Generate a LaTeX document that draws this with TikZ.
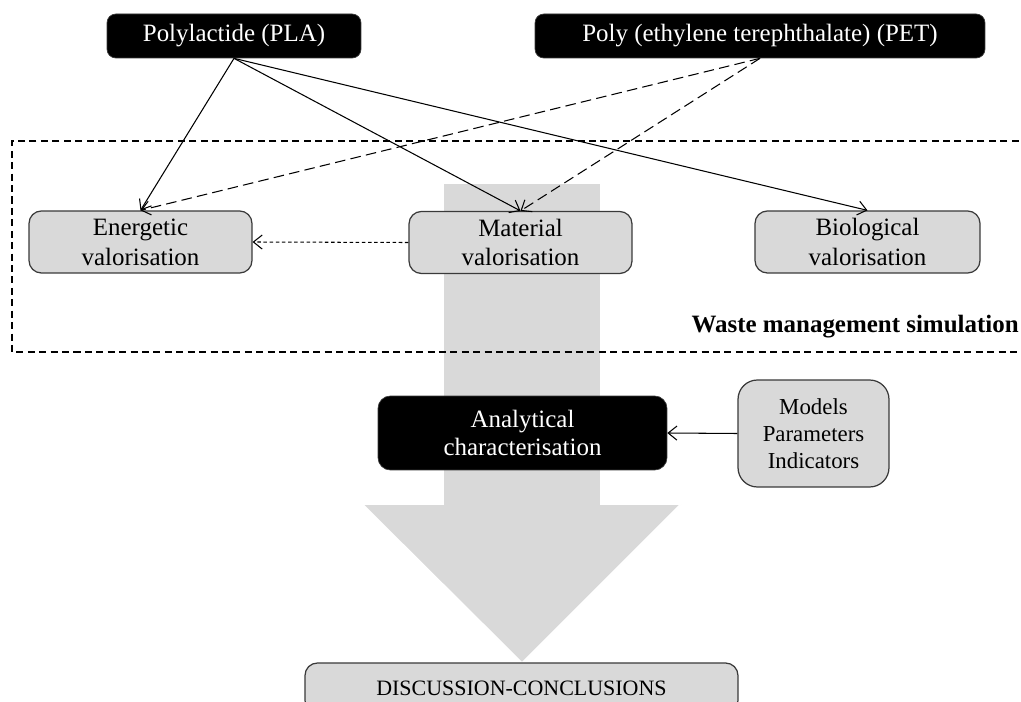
\documentclass[tikz,border=0pt]{standalone}
\usepackage{fontspec}
\setmainfont{Liberation Serif}
\usetikzlibrary{arrows.meta}
\definecolor{boxgray}{HTML}{D9D9D9}
\definecolor{edgegray}{HTML}{3A3A3A}
\tikzset{
  txt/.style={font=\fontsize{14.2}{17}\selectfont, align=center, inner sep=0pt},
  blackbox/.style={txt, fill=black, draw=edgegray, text=white, rounded corners=5pt},
  graybox/.style={txt, fill=boxgray, draw=edgegray, line width=0.7pt, rounded corners=7pt},
  link/.style={-{Straight Barb[length=5pt,width=8pt]}, line width=0.6pt},
}
\begin{document}
\begin{tikzpicture}[x=0.02cm,y=-0.02cm]
\clip (0,0) rectangle (1021,702);
\fill[white] (0,0) rectangle (1021,702);

% big grey arrow behind everything
\filldraw[boxgray, draw=white, line width=1pt] (443,183) -- (601,183) -- (601,504) -- (681,504)
  -- (522,663) -- (362,504) -- (443,504) -- cycle;

% sources
\node[blackbox, minimum width=5.08cm, minimum height=0.88cm] (pla) at (234,36) {Polylactide (PLA)};
\node[blackbox, minimum width=9cm, minimum height=0.88cm] (pet) at (760,36) {Poly (ethylene terephthalate) (PET)};

% valorisation routes
\node[graybox, minimum width=4.46cm, minimum height=1.24cm] (energ) at (140.5,242) {Energetic\\valorisation};
\node[graybox, minimum width=4.46cm, minimum height=1.24cm] (mat) at (520.5,242.5) {Material\\valorisation};
\node[graybox, minimum width=4.5cm, minimum height=1.24cm] (bio) at (867.5,242) {Biological\\valorisation};

% waste management frame
\draw[dashed, dash pattern=on 4pt off 2.5pt, line width=0.6pt] (1030,141) -- (12,141) -- (12,352) -- (1030,352);
\node[txt, font=\fontsize{14.2}{17}\selectfont\bfseries, anchor=east] (waste) at (1019,327) {Waste management simulation};

% analysis
\node[blackbox, minimum width=5.78cm, minimum height=1.48cm, rounded corners=7pt, font=\fontsize{14.2}{16}\selectfont] (anal) at (522.5,433) {Analytical\\characterisation};
\node[graybox, minimum width=3.02cm, minimum height=2.14cm, rounded corners=11pt, font=\fontsize{13}{15.3}\selectfont] (models) at (813.5,433.5) {Models\\Parameters\\Indicators};
\node[graybox, minimum width=8.66cm, minimum height=1cm, font=\fontsize{12.5}{14}\selectfont] (disc) at (521.5,688) {DISCUSSION-CONCLUSIONS};

% connectors
\draw[link] (pla.south) -- (energ.north);
\draw[link] (pla.south) -- (mat.north);
\draw[link] (pla.south) -- (bio.north);
\draw[link, dash pattern=on 6pt off 3pt] (pet.south) -- (energ.north);
\draw[link, dash pattern=on 6pt off 3pt] (pet.south) -- (mat.north);
\draw[link, dash pattern=on 2pt off 1.5pt] (mat.west) -- (energ.east);
\draw[link] (models.west) -- (anal.east);
\end{tikzpicture}
\end{document}
